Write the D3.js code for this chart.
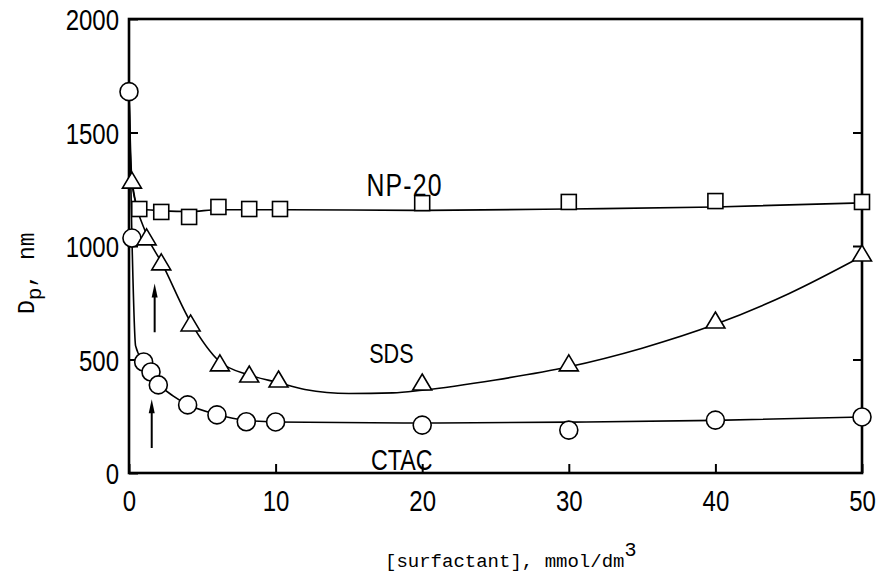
<!DOCTYPE html>
<html>
<head>
<meta charset="utf-8">
<script src="https://cdn.jsdelivr.net/npm/d3@7"></script>
<style>
  html, body { margin: 0; padding: 0; background: #fff; }
  svg { display: block; }
  .lbl { font-family: "Liberation Sans", Arial, sans-serif; fill: #000; }
  .mono { font-family: "Liberation Mono", "DejaVu Sans Mono", "Courier New", monospace; fill: #000; }
</style>
</head>
<body>
<svg id="chart" width="878" height="575"></svg>
<script>
// Particle diameter vs surfactant concentration
const xTicks = [0, 10, 20, 30, 40, 50];
const yTicks = [0, 500, 1000, 1500, 2000];

// Measured points: [concentration mmol/dm3, Dp nm]
const ctacPoints = [[0, 1680], [0.2, 1035], [1, 489], [1.5, 445], [2, 388], [4, 300], [6, 256], [8, 226], [10, 225], [20, 211], [30, 189], [40, 233], [50, 247]];
const sdsPoints  = [[0.2, 1290], [1.2, 1040], [2.2, 930], [4.2, 661], [6.2, 485], [8.2, 436], [10.2, 414], [20, 401], [30, 485], [40, 674], [50, 969]];
const npPoints   = [[0.7, 1163], [2.2, 1150], [4.1, 1128], [6.1, 1172], [8.2, 1163], [10.3, 1163], [20, 1189], [30, 1194], [40, 1198], [50, 1194]];

// Smoothed trend curves through each series
const ctacCurve = [[0, 1680], [0.2, 1035], [0.45, 560], [1, 489], [1.5, 445], [2, 395], [3, 340], [4, 302], [6, 258], [8, 232], [10, 225], [20, 220], [30, 224], [40, 232], [50, 247]];
const sdsCurve  = [[0, 1680], [0.2, 1290], [1.2, 1050], [2.2, 930], [4.2, 665], [6.2, 490], [8.2, 432], [10.2, 398], [12, 368], [15, 350], [18, 353], [20, 365], [25, 410], [30, 468], [35, 550], [40, 655], [45, 790], [50, 955]];
const npCurve   = [[0, 1680], [0.15, 1300], [0.7, 1163], [2.2, 1156], [4.1, 1152], [6.1, 1160], [8.2, 1160], [10.3, 1160], [20, 1157], [30, 1163], [40, 1172], [50, 1190]];

// CMC markers (x, from, to)
const arrows = [[1.75, 620, 835], [1.55, 110, 325]];

const seriesLabels = [
  { text: "NP-20", c: 18.8, v: 1220, size: 31, spacing: 1.5 },
  { text: "SDS",   c: 17.9, v: 485,  size: 27, spacing: 0 },
  { text: "CTAC",  c: 18.6, v: 12,   size: 29, spacing: 0 }
];

const NARROW = 0.8;
const svg = d3.select("#chart");
const x = d3.scaleLinear().domain([0, 50]).range([129, 862]);
const y = d3.scaleLinear().domain([0, 2000]).range([473, 19]);

svg.append("rect").attr("width", 878).attr("height", 575).attr("fill", "#fff");

// Curves
const line = d3.line().x(d => x(d[0])).y(d => y(d[1])).curve(d3.curveMonotoneX);
[ctacCurve, sdsCurve, npCurve].forEach(c => {
  svg.append("path").attr("d", line(c)).attr("fill", "none")
    .attr("stroke", "#000").attr("stroke-width", 1.6);
});

// Frame
svg.append("rect")
  .attr("x", x(0)).attr("y", y(2000))
  .attr("width", x(50) - x(0)).attr("height", y(0) - y(2000))
  .attr("fill", "none").attr("stroke", "#000").attr("stroke-width", 2.6);

// Axes with inward ticks
const fmt = d3.format("d");
const gx = svg.append("g").attr("transform", `translate(0,${y(0)})`)
  .call(d3.axisBottom(x).tickValues(xTicks).tickFormat(fmt).tickSizeInner(-9).tickSizeOuter(0).tickPadding(17));
const gy = svg.append("g").attr("transform", `translate(${x(0)},0)`)
  .call(d3.axisLeft(y).tickValues(yTicks).tickFormat(fmt).tickSizeInner(-9).tickSizeOuter(0).tickPadding(11));
const gr = svg.append("g").attr("transform", `translate(${x(50)},0)`)
  .call(d3.axisRight(y).tickValues(yTicks.slice(1, 4)).tickSizeInner(-9).tickSizeOuter(0).tickFormat(""));
[gx, gy, gr].forEach(g => {
  g.select(".domain").remove();
  g.selectAll(".tick line").attr("stroke", "#000").attr("stroke-width", 2);
  g.selectAll(".tick text").attr("class", "lbl").attr("font-size", 30).attr("fill", "#000")
    .attr("transform", `scale(${NARROW},1)`);
});
gx.selectAll(".tick text").attr("dy", "0.71em");
gy.selectAll(".tick text").attr("dy", "0.36em").attr("x", -10 / NARROW);

// Markers
svg.selectAll(".ctac").data(ctacPoints).enter().append("circle")
  .attr("cx", d => x(d[0])).attr("cy", d => y(d[1])).attr("r", 9)
  .attr("fill", "#fff").attr("stroke", "#000").attr("stroke-width", 1.6);

const tri = (w, h) => `M0,${-h / 2}L${w / 2},${h / 2}L${-w / 2},${h / 2}Z`;
svg.selectAll(".sds").data(sdsPoints).enter().append("path")
  .attr("transform", d => `translate(${x(d[0])},${y(d[1])})`)
  .attr("d", tri(19, 16))
  .attr("fill", "#fff").attr("stroke", "#000").attr("stroke-width", 1.6);

svg.selectAll(".np").data(npPoints).enter().append("rect")
  .attr("x", d => x(d[0]) - 7.5).attr("y", d => y(d[1]) - 7.5)
  .attr("width", 15).attr("height", 15)
  .attr("fill", "#fff").attr("stroke", "#000").attr("stroke-width", 1.6);

// Arrows
arrows.forEach(a => {
  const ax = x(a[0]), y0 = y(a[1]), y1 = y(a[2]);
  svg.append("line").attr("x1", ax).attr("x2", ax).attr("y1", y0).attr("y2", y1 + 10)
    .attr("stroke", "#000").attr("stroke-width", 2);
  svg.append("path").attr("d", `M${ax},${y1}L${ax + 3},${y1 + 14}L${ax - 3},${y1 + 14}Z`).attr("fill", "#000");
});

// Series labels
seriesLabels.forEach(s => {
  svg.append("text").attr("class", "lbl")
    .attr("transform", `translate(${x(s.c)},${y(s.v)}) scale(${NARROW},1)`)
    .attr("text-anchor", "middle").attr("font-size", s.size)
    .attr("letter-spacing", s.spacing).text(s.text);
});

// Axis titles
const xt = svg.append("text").attr("class", "mono").attr("x", 385).attr("y", 567).attr("font-size", 19);
xt.append("tspan").text("[surfactant], mmol/dm");
xt.append("tspan").attr("dy", -11).attr("font-size", 20).text("3");

const yt = svg.append("text").attr("class", "mono")
  .attr("transform", "translate(34,314) rotate(-90)").attr("font-size", 23);
yt.append("tspan").text("D");
yt.append("tspan").attr("dy", 7).attr("font-size", 21).text("p");
yt.append("tspan").attr("dy", -7).text(", nm");
</script>
</body>
</html>
